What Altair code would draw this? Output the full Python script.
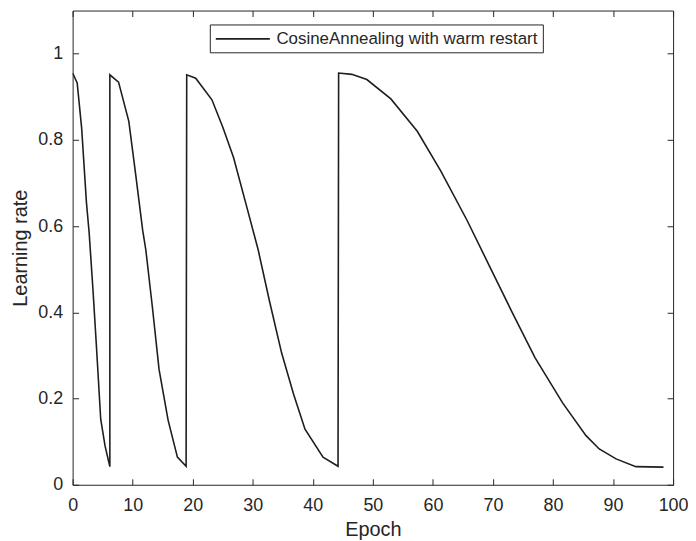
import altair as alt
import pandas as pd

# Values (epoch, learning rate); restarts are vertical jumps
epoch = [0, 0.76, 1.5, 2.3, 2.75, 3.4, 3.97, 4.68, 5.4, 6.2,
         6.2, 7.65, 9.36, 10.5, 11.67, 12.2, 13.3, 14.4, 15.9, 17.45, 18.9,
         19.0, 20.5, 23.2, 25.0, 26.8, 28.8, 30.9, 32.8, 34.8, 36.8, 38.7, 41.7, 44.2,
         44.3, 46.5, 49.0, 53.0, 57.4, 61.3, 65.7, 69.5, 73.2, 77.0, 81.6, 85.5, 87.7, 90.5, 93.8, 98.4]
lr = [0.955, 0.932, 0.828, 0.655, 0.585, 0.45, 0.32, 0.152, 0.09, 0.042,
      0.951, 0.934, 0.843, 0.72, 0.59, 0.544, 0.41, 0.267, 0.15, 0.064, 0.043,
      0.951, 0.943, 0.893, 0.83, 0.759, 0.655, 0.545, 0.425, 0.306, 0.21, 0.129, 0.064, 0.043,
      0.955, 0.952, 0.94, 0.895, 0.82, 0.728, 0.613, 0.505, 0.40, 0.295, 0.19, 0.114, 0.083, 0.06, 0.042, 0.041]
series_name = "CosineAnnealing with warm restart"
x_ticks = [0, 10, 20, 30, 40, 50, 60, 70, 80, 90, 100]
y_ticks = [0, 0.2, 0.4, 0.6, 0.8, 1.0]

df = pd.DataFrame({"epoch": epoch, "lr": lr, "idx": list(range(len(epoch))),
                   "series": [series_name] * len(epoch)})

FONT = "Liberation Sans"
TXT = "#262626"
TICK = 6

xscale = alt.Scale(domain=[0, 100], nice=False, zero=False)
yscale = alt.Scale(domain=[0, 1.1], nice=False, zero=False)

line = alt.Chart(df).mark_line(strokeWidth=1.6, clip=True).encode(
    x=alt.X("epoch:Q", scale=xscale, title="Epoch",
            axis=alt.Axis(orient="bottom", values=x_ticks, offset=-TICK, tickSize=TICK,
                          domain=False, grid=False, labelFontSize=18, labelPadding=12,
                          titleFontSize=20, titlePadding=5, titleFontWeight="normal",
                          labelFlush=False)),
    y=alt.Y("lr:Q", scale=yscale, title="Learning rate",
            axis=alt.Axis(orient="left", values=y_ticks, offset=-TICK, tickSize=TICK,
                          domain=False, grid=False, labelFontSize=18, labelPadding=10,
                          titleFontSize=20, titlePadding=7, titleFontWeight="normal",
                          format="~g", labelFlush=False)),
    order=alt.Order("idx:Q"),
    color=alt.Color("series:N", scale=alt.Scale(domain=[series_name], range=["#1e1e1e"]),
                    legend=alt.Legend(title=None, orient="none", legendX=138, legendY=14,
                                      strokeColor=TXT, fillColor="white", padding=5,
                                      symbolType="M-1,0H5.4", symbolSize=289,
                                      symbolStrokeWidth=1.6, labelFontSize=17,
                                      labelOffset=43, labelColor=TXT, labelLimit=0,
                                      cornerRadius=0)),
)

mirror = alt.Chart(df).mark_line(strokeOpacity=0).encode(
    x=alt.X("epoch:Q", scale=xscale, title=None,
            axis=alt.Axis(orient="top", values=x_ticks, offset=-TICK, tickSize=TICK,
                          domain=False, grid=False, labels=False)),
    y=alt.Y("lr:Q", scale=yscale, title=None,
            axis=alt.Axis(orient="right", values=y_ticks, offset=-TICK, tickSize=TICK,
                          domain=False, grid=False, labels=False)),
    order=alt.Order("idx:Q"),
)

chart = alt.layer(line, mirror).properties(
    width=604, height=477,
    autosize=alt.AutoSizeParams(type="none"),
    padding={"left": 65, "top": 1, "right": 15, "bottom": 54},
).configure_view(stroke=TXT, strokeWidth=1).configure_axis(
    labelFont=FONT, titleFont=FONT, labelColor=TXT, titleColor=TXT,
    tickColor=TXT, tickWidth=1
).configure_legend(labelFont=FONT)

chart.save("out.html", embed_options={"renderer": "svg", "actions": False})
